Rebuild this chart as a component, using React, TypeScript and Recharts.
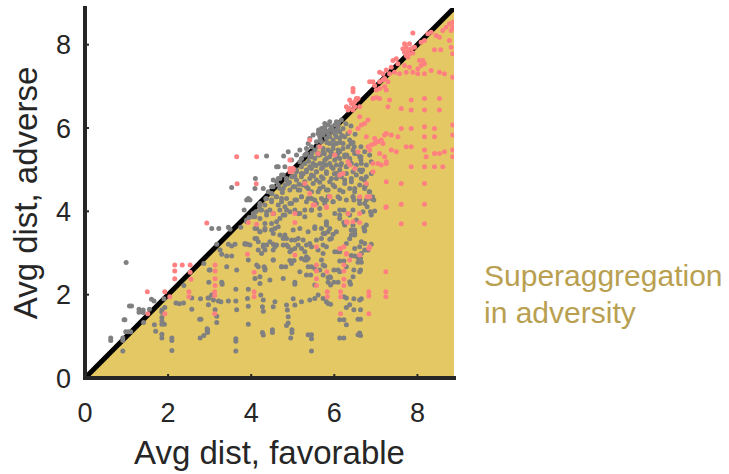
import { ComposedChart, Area, Scatter, XAxis, YAxis, Label } from 'recharts'

const FONT = '"Liberation Sans", Arial, Helvetica, sans-serif'

const xTicks = [0, 2, 4, 6, 8]
const yTicks = [0, 2, 4, 6, 8]
const axisMax = 8.88

// equality line, area below it is shaded
const diagonal = [
  { x: 0, y: 0 },
  { x: 8.88, y: 8.88 },
]

// [favorable, adverse]
const greyPoints: number[][] = [
  // lower left
  [0.99, 2.77], [1.07, 1.73], [1.12, 1.73], [1.3, 1.65], [1.3, 1.58], [1.4, 1.63], [1.4, 1.57], [1.55, 1.65],
  [1.6, 1.89], [1.66, 1.85], [1.9, 1.9], [1.85, 1.63], [1.85, 1.58], [1.92, 1.69], [0.94, 1.4], [0.96, 1.4],
  [1.41, 1.33], [1.67, 1.28], [1.85, 1.45], [1.85, 1.37], [1.85, 1.29], [1.91, 1.29], [0.98, 1.11], [1.04, 1.11],
  [1.1, 1.11], [0.91, 0.96], [0.91, 0.9], [0.62, 0.96], [0.62, 0.9], [1.7, 1.12], [1.85, 1.05], [1.85, 0.96],
  [2.09, 0.96], [2.09, 0.9], [0.91, 0.65], [2.09, 0.66], [2.19, 1.8], [2.27, 1.78], [2.37, 1.8], [2.38, 2.22],
  [2.57, 1.92], [2.57, 1.65], [2.78, 1.9], [2.86, 2.75], [2.76, 1.41], [2.79, 1.41], [2.94, 1.18], [2.94, 1.13],
  [2.77, 0.96], [2.86, 1.02], [2.99, 2.59], [2.96, 1.92],
  // above the line, 3-6
  [3.05, 3.59], [3.22, 3.59], [3.45, 3.62], [3.49, 3.57], [3.83, 4.03], [3.93, 4.31], [3.97, 4.27], [3.53, 4.57],
  [4.1, 4.79], [4.09, 4.55], [4.29, 4.55], [4.49, 4.59], [4.65, 5.07], [4.81, 5.07], [4.97, 5.23], [4.37, 5.33],
  [4.78, 5.33], [3.89, 4.27], [4.61, 5.07], [4.53, 4.75], [4.65, 4.79], [4.73, 4.87], [4.89, 5.43], [5.09, 5.35],
  [5.17, 5.47], [5.37, 5.63], [5.41, 5.75], [5.49, 5.83], [5.61, 5.87], [5.69, 5.99], [5.77, 6.11], [5.89, 6.15],
  [6.05, 6.15], [6.17, 6.19], [3.75, 3.62], [3.95, 3.85], [4.05, 3.95], [4.2, 4.12], [4.35, 4.3], [4.5, 4.42],
  // middle band
  [4.11, 3.99], [4.25, 4.03], [4.09, 3.87], [4.21, 3.83], [4.37, 3.91], [4.45, 4.03], [4.53, 3.95], [4.33, 3.71],
  [4.49, 3.71], [4.61, 3.75], [4.69, 3.83], [4.77, 3.91], [4.85, 4.03], [4.93, 4.19], [5.05, 4.27], [5.21, 4.35],
  [5.37, 4.31], [5.53, 4.27], [5.69, 4.31], [5.77, 4.19], [5.65, 4.07], [5.45, 4.03], [5.29, 4.03], [5.17, 3.95],
  [5.05, 4.03], [4.81, 4.11], [4.65, 4.15], [4.49, 4.23], [4.73, 4.31],
  [4.13, 3.59], [4.21, 3.51], [4.33, 3.59], [4.49, 3.55], [4.57, 3.59], [4.69, 3.43], [4.77, 3.35], [4.85, 3.35],
  [4.97, 3.31], [5.13, 3.35], [5.25, 3.31], [5.33, 3.19], [4.09, 3.35], [4.17, 3.27], [4.29, 3.19], [4.33, 3.07],
  [4.25, 2.99], [4.17, 3.07], [4.37, 3.19], [4.53, 3.21], [4.57, 3.15], [4.61, 3.19], [4.85, 3.19], [4.89, 3.15],
  [4.97, 3.07], [5.05, 3.11], [5.13, 3.19], [5.29, 3.03], [5.33, 2.91], [5.21, 2.87], [5.29, 2.83], [5.37, 2.87],
  [5.45, 3.15], [5.57, 3.31], [5.69, 3.35], [5.73, 3.19], [5.77, 3.47], [5.85, 3.51], [5.69, 3.59], [5.53, 3.59],
  [5.73, 2.99], [5.69, 2.83], [3.85, 3.21], [3.91, 3.21], [3.45, 3.21], [3.53, 3.17], [3.61, 3.21], [3.17, 3.21],
  [3.25, 3.07], [3.29, 2.97], [3.41, 2.93], [3.53, 2.93], [3.01, 2.59], [2.98, 2.3], [2.98, 1.92], [2.97, 1.76],
  [3.29, 2.3], [3.3, 2.25], [3.41, 2.67], [3.65, 2.59], [4.17, 2.67], [4.31, 2.67], [4.33, 2.59], [4.09, 2.39],
  [4.21, 2.27], [4.73, 2.67], [4.83, 2.67], [4.93, 2.82], [5.03, 2.82], [4.53, 2.83], [5.37, 2.67], [5.45, 2.67],
  [5.05, 2.3], [5.05, 2.25], [5.33, 2.47], [5.43, 2.47], [5.65, 2.59], [5.73, 2.47], [5.77, 2.69], [5.53, 2.23],
  // lower middle
  [3.63, 2.13], [3.63, 1.85], [3.65, 1.64], [3.93, 2.13], [3.91, 1.91], [3.93, 1.72], [3.93, 1.29], [3.63, 0.94],
  [3.63, 0.88], [3.63, 0.65], [4.23, 1.99], [4.29, 1.87], [4.27, 1.71], [4.29, 1.6], [4.27, 1.09], [4.29, 1.03],
  [4.51, 1.16], [4.51, 1.09], [4.57, 1.83], [4.53, 1.71], [4.85, 1.75], [4.87, 1.63], [4.89, 1.47], [4.89, 1.32],
  [4.85, 1.26], [5.05, 1.75], [5.01, 1.9], [5.21, 1.83], [4.95, 0.96], [4.98, 1.16], [4.98, 1.09], [5.37, 1.04],
  [5.45, 1.04], [5.45, 0.94], [5.45, 0.65], [5.41, 1.87], [5.53, 1.91], [5.61, 1.99], [5.73, 1.91], [5.81, 1.83],
  [2.95, 1.16], [2.95, 1.09], [3.17, 1.48], [3.17, 1.33], [3.13, 1.64], [3.21, 1.85], [3.27, 1.83], [3.45, 1.85],
  [3.05, 1.99], [3.09, 1.87],
  // right edge of the cloud
  [5.81, 4.27], [5.89, 4.35], [5.97, 4.23], [6.09, 4.35], [6.45, 4.35], [6.47, 4.27], [6.61, 4.31], [6.73, 4.19],
  [6.79, 4.11], [6.89, 4.31], [6.95, 4.27], [6.13, 4.03], [6.13, 3.91], [6.23, 4.03], [6.33, 3.95], [6.45, 4.03],
  [6.87, 3.99], [6.89, 3.91], [6.97, 4.01], [5.81, 3.73], [5.81, 3.67], [6.23, 3.73], [6.25, 3.67], [6.45, 3.67],
  [6.41, 3.55], [6.49, 3.55], [6.41, 3.43], [6.49, 3.43], [6.37, 3.34], [6.71, 3.61], [6.73, 3.53], [5.77, 3.46],
  [5.97, 3.45], [5.89, 3.33], [6.65, 3.27], [6.73, 3.23], [6.89, 3.21], [6.61, 3.15], [6.73, 3.07], [6.65, 2.99],
  [6.57, 2.89], [6.63, 2.87], [6.57, 2.78], [6.65, 2.78], [6.41, 2.94], [6.49, 2.93], [6.01, 3.03], [6.09, 3.03],
  [6.13, 2.81], [6.23, 2.81], [5.99, 2.59], [6.09, 2.59], [6.47, 2.59], [6.63, 2.59], [5.85, 2.41], [5.91, 2.41],
  [5.85, 2.3], [5.99, 2.3], [6.09, 2.3], [5.91, 2.23], [6.37, 2.31], [6.39, 2.25], [6.23, 1.95], [6.29, 1.92],
  [6.47, 1.9], [6.61, 1.87], [6.65, 1.9], [5.85, 1.79], [5.91, 1.77], [6.37, 1.76], [6.29, 1.69], [6.47, 1.64],
  [6.63, 1.64], [6.13, 1.4], [6.23, 1.4], [6.29, 1.28], [6.57, 1.41], [6.63, 1.41], [6.61, 1.08], [6.57, 1.04],
  [6.63, 1.02], [6.13, 0.96], [6.23, 0.96],
  [6.64, 5.23], [6.68, 4.99], [6.72, 4.75], [6.76, 4.63], [6.84, 4.47], [6.92, 4.35], [6.6, 4.27], [6.64, 5.31],
  [6.48, 5.55], [6.4, 5.63], [6.64, 5.55],
  // dense cluster by the line
  [5.77, 6.03], [5.85, 6.07], [5.93, 6.03], [6.01, 6.07], [6.09, 6.03], [5.81, 5.91], [5.89, 5.95], [5.97, 5.91],
  [6.05, 5.95], [6.13, 5.91], [6.21, 5.99], [5.65, 5.79], [5.73, 5.83], [5.81, 5.75], [5.89, 5.79], [5.97, 5.71],
  [6.05, 5.79], [6.13, 5.75], [6.25, 5.79], [6.33, 5.87], [5.57, 5.67], [5.69, 5.67], [5.89, 5.63], [6.05, 5.63],
  [6.21, 5.63], [6.37, 5.71], [5.33, 5.51], [5.45, 5.55], [5.53, 5.47], [5.61, 5.55], [5.73, 5.51], [5.85, 5.47],
  [5.97, 5.51], [6.09, 5.47], [6.21, 5.51], [6.33, 5.55], [6.45, 5.47], [6.53, 5.39], [5.21, 5.27], [5.29, 5.35],
  [5.41, 5.31], [5.53, 5.27], [5.65, 5.35], [5.77, 5.23], [5.89, 5.31], [6.01, 5.23], [6.13, 5.27], [6.25, 5.31],
  [6.37, 5.23], [5.49, 5.15], [5.73, 5.15], [5.89, 5.15], [5.01, 5.03], [5.09, 4.95], [5.21, 5.07], [5.33, 4.99],
  [5.45, 5.03], [5.57, 4.95], [5.69, 5.03], [5.81, 4.95], [5.97, 5.03], [6.13, 4.99], [6.29, 5.07], [6.45, 4.95],
  [6.61, 4.99], [4.85, 4.79], [4.97, 4.83], [5.09, 4.75], [5.21, 4.83], [5.29, 4.71], [5.41, 4.79], [5.57, 4.75],
  [5.73, 4.79], [5.89, 4.71], [6.05, 4.79], [6.25, 4.75], [6.41, 4.71], [6.65, 4.79], [4.69, 4.55], [4.81, 4.63],
  [4.93, 4.51], [5.05, 4.59], [5.17, 4.51], [5.33, 4.59], [5.45, 4.47], [5.65, 4.55], [5.81, 4.51], [6.01, 4.59],
  [6.21, 4.47], [6.49, 4.55], [6.73, 4.59],
  [5.62, 5.95], [5.7, 5.88], [5.78, 5.95], [5.86, 5.85], [5.94, 5.97], [6.02, 5.85], [6.1, 5.93], [6.18, 5.82],
  [5.66, 5.72], [5.82, 5.65], [5.98, 5.6], [6.14, 5.65], [5.6, 5.4], [5.76, 5.38], [5.92, 5.42], [6.08, 5.38],
  [5.46, 5.4], [5.38, 5.2], [5.56, 5.1], [5.72, 5.05], [5.05, 4.85], [5.15, 4.65], [5.25, 4.9], [4.92, 4.7],
  [4.75, 4.45], [4.6, 4.35], [5.5, 4.85], [5.65, 4.7], [6.0, 4.9], [6.15, 5.1], [6.3, 5.35], [6.45, 5.65],
  [6.5, 5.85], [6.4, 6.05], [6.28, 6.1], [6.1, 6.12],
  // filling in the body of the cloud
  [5.33, 5.39], [5.45, 5.31], [5.61, 5.35], [5.73, 5.43], [5.81, 5.27], [5.93, 5.39], [6.05, 5.31], [6.13, 5.43],
  [6.25, 5.35], [6.37, 5.27], [6.49, 5.39], [6.61, 5.31], [6.73, 5.43], [6.85, 5.35], [6.89, 5.19], [6.77, 5.11],
  [6.65, 5.15], [6.53, 5.11], [6.41, 5.15], [6.29, 5.07], [6.17, 5.15], [6.05, 5.11], [5.93, 5.07], [5.81, 5.11],
  [5.65, 5.15], [5.53, 5.11], [5.41, 5.07], [5.29, 5.15], [5.17, 5.19],
  [5.09, 4.99], [5.21, 4.91], [5.33, 4.95], [5.45, 4.87], [5.57, 4.95], [5.69, 4.83], [5.81, 4.91], [5.93, 4.79],
  [6.05, 4.91], [6.17, 4.83], [6.29, 4.91], [6.41, 4.79], [6.53, 4.87], [6.65, 4.95], [6.77, 4.83], [6.89, 4.91],
  [5.01, 4.83], [4.77, 4.87], [4.85, 4.75], [4.69, 4.79], [4.61, 4.71],
  [4.53, 4.59], [4.65, 4.63], [4.77, 4.55], [4.89, 4.67], [5.01, 4.59], [5.13, 4.51], [5.25, 4.63], [5.37, 4.55],
  [5.49, 4.67], [5.61, 4.47], [5.73, 4.59], [5.85, 4.51], [5.97, 4.63], [6.13, 4.51], [6.25, 4.67], [6.37, 4.55],
  [6.49, 4.47], [6.61, 4.63], [6.73, 4.55], [6.85, 4.47], [4.41, 4.47], [4.49, 4.43],
  [4.37, 4.31], [4.49, 4.27], [4.61, 4.35], [4.73, 4.23], [4.85, 4.31], [4.97, 4.19], [5.09, 4.27], [5.21, 4.35],
  [5.33, 4.23], [5.45, 4.31], [5.57, 4.19], [5.73, 4.27], [5.85, 4.35], [5.97, 4.23], [6.13, 4.31], [6.29, 4.27],
  [6.45, 4.35], [6.61, 4.19], [6.77, 4.27], [4.21, 4.19], [4.33, 4.15],
  [4.21, 4.03], [4.37, 3.99], [4.53, 3.95], [4.69, 4.03], [4.81, 3.91], [4.93, 3.99], [5.13, 3.95], [5.29, 3.87],
  [5.45, 4.03], [5.65, 3.91], [5.81, 3.75], [6.01, 3.95], [6.13, 3.83], [6.37, 3.91], [6.53, 3.79], [6.69, 3.99],
  [4.05, 3.87], [3.89, 3.79],
  [3.89, 3.75], [4.09, 3.59], [4.21, 3.51], [4.33, 3.55], [4.53, 3.47], [4.65, 3.63], [4.81, 3.43], [5.01, 3.55],
  [5.17, 3.59], [5.37, 3.51], [5.53, 3.63], [5.73, 3.47], [5.89, 3.59], [6.05, 3.51], [6.41, 3.55], [6.49, 3.47],
  [6.73, 3.55], [6.77, 3.67],
  [3.85, 3.23], [3.97, 3.19], [4.13, 3.35], [4.29, 3.15], [4.45, 3.27], [4.53, 3.07], [4.77, 3.19], [4.93, 3.03],
  [5.05, 3.31], [5.21, 3.11], [5.41, 3.23], [5.61, 3.07], [5.81, 3.15], [5.93, 3.35], [6.13, 3.03], [6.29, 3.23],
  [6.49, 3.11], [6.61, 2.95], [6.81, 3.07],
  [3.93, 2.83], [4.13, 2.71], [4.33, 2.63], [4.53, 2.83], [4.73, 2.67], [4.97, 2.75], [5.17, 2.55], [5.33, 2.83],
  [5.53, 2.63], [5.73, 2.71], [5.89, 2.43], [6.13, 2.55], [6.29, 2.67], [6.45, 2.43], [6.61, 2.55], [4.21, 2.43],
  [4.45, 2.35], [4.77, 2.39],
]

const pinkPoints: number[][] = [
  // lower left and middle
  [2.93, 3.72], [2.16, 2.71], [2.34, 2.71], [2.53, 2.71], [2.16, 2.57], [2.53, 2.54], [2.16, 2.38], [2.55, 2.37],
  [2.5, 2.07], [2.5, 1.95], [1.5, 2.07], [1.92, 2.07], [2.04, 1.95], [1.51, 1.54], [1.92, 1.54],
  [3.93, 3.73], [4.13, 3.69], [5.05, 3.73], [3.91, 2.97], [4.07, 2.54], [3.13, 2.71], [3.13, 2.57], [3.13, 2.38],
  [3.13, 2.22], [3.12, 2.07], [3.12, 1.98], [3.12, 1.54], [4.07, 2.07], [4.07, 1.95], [5.05, 2.95], [5.57, 3.15],
  [5.57, 2.71], [5.57, 2.57], [5.57, 2.38], [5.57, 2.22], [5.82, 2.55], [5.83, 2.07], [5.83, 1.95],
  [7.24, 4.09], [7.61, 4.17], [8.17, 4.17], [7.61, 3.7], [8.17, 3.7], [6.61, 3.95], [6.31, 3.73], [6.33, 3.95],
  [6.61, 3.73], [6.79, 4.35], [6.15, 3.11], [6.23, 3.15], [6.29, 2.97], [6.61, 2.95], [6.83, 3.11], [6.23, 2.71],
  [6.23, 2.57], [6.23, 2.37], [6.23, 2.22], [7.24, 2.55], [6.15, 2.07], [6.15, 1.95], [6.83, 2.07], [6.83, 1.97],
  [7.24, 2.07], [7.24, 1.95], [6.15, 1.54], [6.83, 1.54], [5.81, 4.09], [5.89, 4.35], [5.53, 4.15], [5.05, 3.95],
  [7.61, 4.67], [8.17, 4.67],
  [3.65, 5.31], [4.13, 5.31], [3.66, 4.66], [4.12, 4.66], [4.93, 5.03], [4.97, 4.95], [5.01, 5.0], [5.41, 5.71],
  [5.65, 5.55], [6.29, 6.51], [6.45, 6.59], [6.53, 6.67], [6.61, 6.27], [6.77, 5.79], [7.01, 5.67], [7.25, 5.87],
  [7.17, 5.63], [6.85, 5.47], [7.09, 5.39], [7.25, 5.15], [6.93, 5.15], [6.57, 5.43], [6.37, 5.91], [6.93, 4.95],
  [7.25, 4.71], [7.25, 4.11], [6.61, 4.35], [6.33, 5.19], [6.21, 4.91],
  [4.93, 5.23], [5.01, 5.03], [4.93, 4.95], [5.61, 5.39], [6.01, 5.35], [6.37, 5.11], [6.49, 5.03], [6.13, 4.87],
  [6.77, 4.67], [6.85, 4.35], [5.29, 4.67], [5.41, 4.43], [5.89, 4.35], [5.49, 4.15], [5.81, 4.11], [4.53, 3.95],
  [6.29, 3.75], [6.45, 3.75], [6.13, 3.11], [6.85, 3.15], [6.29, 2.99], [6.37, 2.83],
  // along the line, upper right
  [7.89, 8.28], [7.69, 8.02], [7.73, 7.94], [7.77, 7.86], [7.69, 7.82], [7.81, 7.78], [7.73, 7.74], [7.85, 7.9],
  [7.89, 7.8], [7.77, 7.7], [7.65, 7.9], [7.81, 8.02], [7.93, 7.94],
  [8.09, 8.06], [8.17, 8.1], [8.25, 8.26], [8.33, 8.3], [8.45, 8.22], [8.53, 8.18], [8.61, 8.34], [8.69, 8.42],
  [8.77, 8.5], [8.81, 8.34], [8.85, 8.42], [8.77, 8.1], [8.81, 7.94], [8.85, 7.78], [8.85, 8.54],
  [8.41, 7.88], [8.56, 7.88], [8.05, 7.62], [8.13, 7.62], [8.09, 7.5], [8.17, 7.54], [8.01, 7.42], [7.89, 7.34],
  [8.01, 7.3], [8.17, 7.3], [8.33, 7.38], [8.53, 7.34], [8.65, 7.3], [8.85, 7.22],
  [7.41, 7.62], [7.49, 7.66], [7.53, 7.54], [7.37, 7.46], [7.45, 7.34], [7.57, 7.3], [7.73, 7.34], [7.69, 7.5],
  [7.81, 7.46], [7.09, 7.34], [7.17, 7.3], [7.25, 7.39], [7.33, 7.3], [7.21, 7.19], [7.29, 7.11], [7.17, 7.15],
  [7.09, 7.11], [6.85, 7.11], [6.93, 7.11], [6.97, 7.02], [7.01, 6.91], [7.09, 6.95], [7.21, 6.99], [7.25, 6.91],
  [6.45, 6.95], [6.45, 6.87], [6.37, 6.67], [6.41, 6.59], [6.49, 6.63], [6.53, 6.71], [6.57, 6.71], [6.49, 6.51],
  [6.45, 6.43], [6.37, 6.47], [6.33, 6.43], [6.61, 6.51], [6.93, 6.71], [7.01, 6.73], [7.09, 6.71],
  // scattered right
  [7.33, 6.67], [7.29, 6.51], [7.61, 6.47], [7.85, 6.67], [8.17, 6.71], [8.53, 6.71], [7.85, 6.43], [8.17, 6.43],
  [8.53, 6.43], [8.17, 6.03], [8.41, 5.99], [8.85, 6.07], [7.61, 5.99], [7.85, 5.99], [8.17, 5.79], [8.41, 5.79],
  [8.85, 5.83], [7.21, 5.83], [7.37, 5.83], [7.53, 5.79], [6.97, 5.75], [7.05, 5.67], [7.13, 5.71], [6.81, 5.55],
  [6.89, 5.59], [6.97, 5.63], [7.37, 5.47], [7.49, 5.43], [7.73, 5.55], [7.85, 5.55], [8.17, 5.47], [8.21, 5.31],
  [8.41, 5.39], [8.53, 5.39], [8.65, 5.43], [8.85, 5.47], [8.85, 5.31], [7.21, 5.31], [7.25, 5.19], [7.05, 5.15],
  [7.13, 5.11], [7.85, 5.07], [8.17, 5.07], [8.41, 5.07], [8.61, 5.07], [6.73, 6.11], [6.81, 6.19], [6.57, 5.99],
  [6.65, 6.07],
]

const greyData = greyPoints.map(([x, y]) => ({ x, y }))
const pinkData = pinkPoints.map(([x, y]) => ({ x, y }))

// eslint-disable-next-line @typescript-eslint/no-explicit-any
const dot = (color: string) => (props: any) => <circle cx={props.cx} cy={props.cy} r={2.5} fill={color} />

// eslint-disable-next-line @typescript-eslint/no-explicit-any
const XTick = (props: any) => (
  <text x={props.x} y={props.y} dy="0.71em" textAnchor="middle" fontSize={27} fill="#262626" fontFamily={FONT}>
    {props.payload.value}
  </text>
)

// eslint-disable-next-line @typescript-eslint/no-explicit-any
const YTick = (props: any) => (
  <text x={props.x} y={props.y} dy="0.36em" textAnchor="end" fontSize={27} fill="#262626" fontFamily={FONT}>
    {props.payload.value}
  </text>
)

const axisLine = { stroke: '#262626', strokeWidth: 4, strokeLinecap: 'square' as const }
const tickLine = { stroke: '#262626', strokeWidth: 2 }

export default function App() {
  return (
    <div style={{ position: 'absolute', left: 0, top: 0, width: 729, height: 474, background: '#fff', fontFamily: FONT }}>
      <ComposedChart width={729} height={474} data={diagonal} margin={{ top: 8, right: 275, bottom: 0, left: 0 }}>
        <XAxis
          dataKey="x"
          type="number"
          domain={[0, axisMax]}
          ticks={xTicks}
          allowDataOverflow
          height={96}
          tickSize={-4}
          tickMargin={29}
          axisLine={axisLine}
          tickLine={tickLine}
          tick={XTick}
        >
          <Label value="Avg dist, favorable" position="insideBottom" offset={10} fontSize={33} fill="#262626" fontFamily={FONT} />
        </XAxis>
        <YAxis
          dataKey="y"
          type="number"
          domain={[0, axisMax]}
          ticks={yTicks}
          allowDataOverflow
          width={85}
          tickSize={-4}
          tickMargin={18}
          axisLine={axisLine}
          tickLine={tickLine}
          tick={YTick}
        >
          <Label
            value="Avg dist, adverse"
            angle={-90}
            position="insideLeft"
            offset={25}
            fontSize={33}
            fill="#262626"
            fontFamily={FONT}
            style={{ textAnchor: 'middle' }}
          />
        </YAxis>
        <Area
          dataKey="y"
          type="linear"
          fill="#e3c864"
          fillOpacity={1}
          stroke="#000"
          strokeWidth={5}
          dot={false}
          activeDot={false}
          isAnimationActive={false}
        />
        <Scatter data={greyData} shape={dot('#808080')} isAnimationActive={false} />
        <Scatter data={pinkData} shape={dot('#ff8080')} isAnimationActive={false} />
      </ComposedChart>
      <div style={{ position: 'absolute', left: 484, top: 257, fontSize: 30, lineHeight: '37px', color: '#b9a050' }}>
        Superaggregation
        <br />
        in adversity
      </div>
    </div>
  )
}
